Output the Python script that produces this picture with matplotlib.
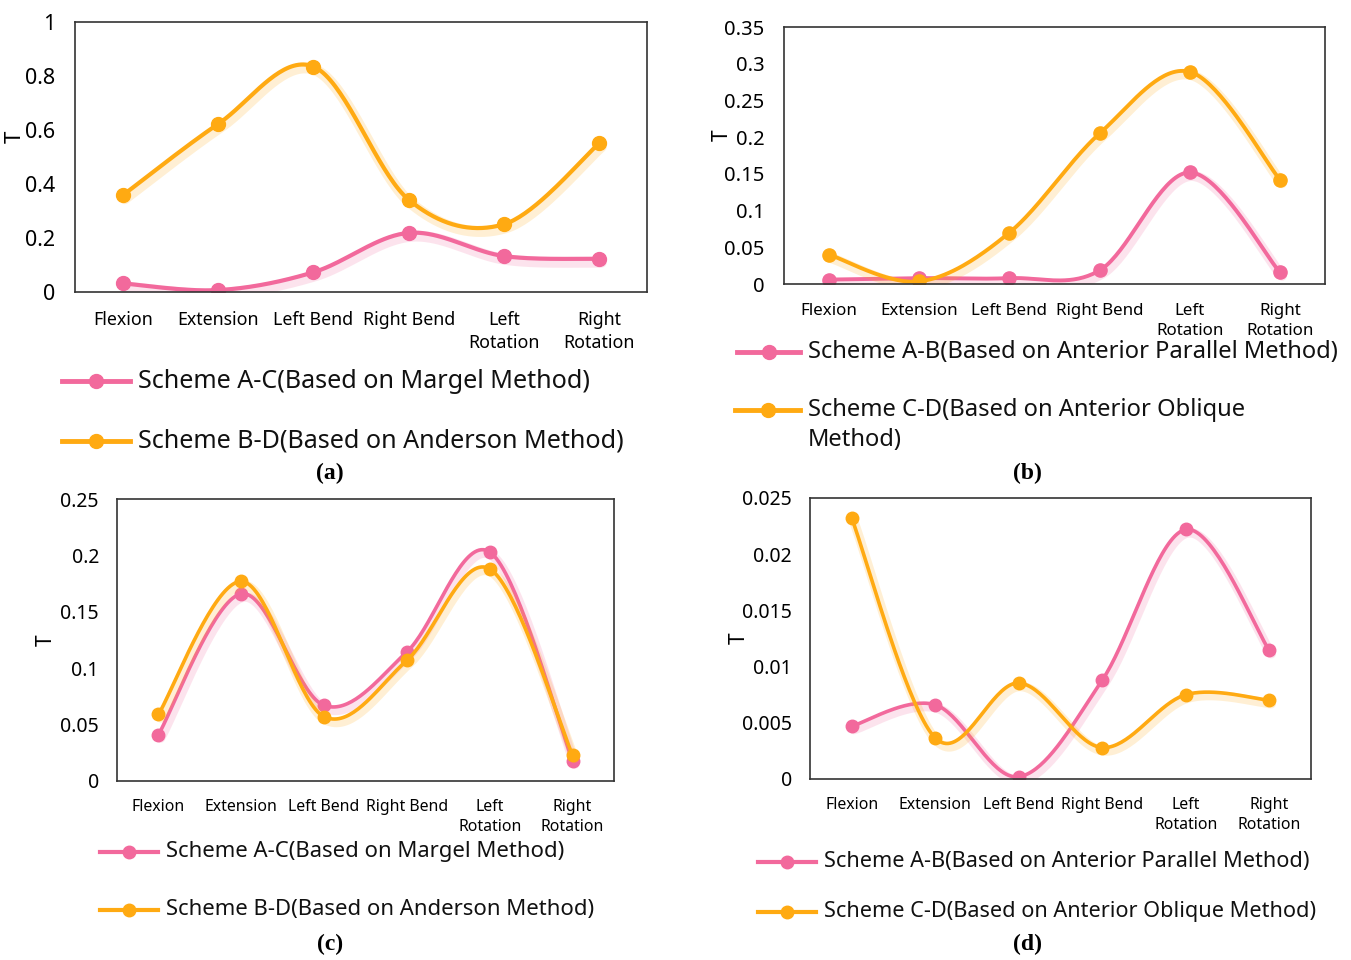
import numpy as np
import matplotlib.pyplot as plt
from matplotlib.lines import Line2D
import matplotlib.patheffects as pe

W, H = 1351, 960

categories = ["Flexion", "Extension", "Left Bend", "Right Bend", "Left\nRotation", "Right\nRotation"]

a_pink = [0.032, 0.007, 0.073, 0.219, 0.133, 0.123]
a_orange = [0.358, 0.622, 0.835, 0.342, 0.251, 0.551]
b_pink = [0.006, 0.008, 0.008, 0.0185, 0.152, 0.016]
b_orange = [0.040, 0.0035, 0.070, 0.205, 0.289, 0.142]
c_pink = [0.041, 0.166, 0.067, 0.1145, 0.203, 0.018]
c_orange = [0.059, 0.177, 0.057, 0.107, 0.188, 0.023]
d_pink = [0.0047, 0.0066, 0.0002, 0.0088, 0.0222, 0.01145]
d_orange = [0.0232, 0.00365, 0.00854, 0.0028, 0.0075, 0.0070]

a_yticks = [0, 0.2, 0.4, 0.6, 0.8, 1]
a_ylabels = ["0", "0.2", "0.4", "0.6", "0.8", "1"]
b_yticks = [0, 0.05, 0.1, 0.15, 0.2, 0.25, 0.3, 0.35]
b_ylabels = ["0", "0.05", "0.1", "0.15", "0.2", "0.25", "0.3", "0.35"]
c_yticks = [0, 0.05, 0.1, 0.15, 0.2, 0.25]
c_ylabels = ["0", "0.05", "0.1", "0.15", "0.2", "0.25"]
d_yticks = [0, 0.005, 0.01, 0.015, 0.02, 0.025]
d_ylabels = ["0", "0.005", "0.01", "0.015", "0.02", "0.025"]

names_ac = ["Scheme A-C(Based on Margel Method)", "Scheme B-D(Based on Anderson Method)"]
names_bd = ["Scheme A-B(Based on Anterior Parallel Method)", "Scheme C-D(Based on Anterior Oblique Method)"]

PINK = "#F2699C"
ORANGE = "#FFAA12"

plt.rcParams['font.family'] = ['Noto Sans', 'DejaVu Sans']


def smooth(y, n=40):
    # excel-like smoothed line through the points (bezier, catmull-rom control points)
    pts = np.column_stack([np.arange(len(y)), np.asarray(y, float)])
    out = []
    for i in range(len(pts) - 1):
        p0 = pts[max(i - 1, 0)]
        p1, p2 = pts[i], pts[i + 1]
        p3 = pts[min(i + 2, len(pts) - 1)]
        c1 = p1 + (p2 - p0) / 6
        c2 = p2 - (p3 - p1) / 6
        t = np.linspace(0, 1, n)[:, None]
        seg = (1 - t)**3 * p1 + 3 * (1 - t)**2 * t * c1 + 3 * (1 - t) * t**2 * c2 + t**3 * p2
        out.append(seg if i == 0 else seg[1:])
    s = np.vstack(out)
    return s[:, 0], s[:, 1]


def px(x, y):
    return x / W, 1 - y / H


fig = plt.figure(figsize=(W / 100, H / 100), dpi=100)


def panel(box, series, yticks, ylabels, yfs, xfs, ms, lw, ypad, xpad):
    x0, y0, x1, y1 = box
    ax = fig.add_axes([x0 / W, 1 - y1 / H, (x1 - x0) / W, (y1 - y0) / H])
    for vals, col in series:
        sx, sy = smooth(vals)
        ax.plot(sx, sy, color=col, lw=lw, solid_capstyle='round',
                path_effects=[pe.SimpleLineShadow(offset=(1.5, -2.5), shadow_color=col,
                                                  alpha=0.18, linewidth=lw * 2.6),
                              pe.Normal()])
        ax.plot(range(len(vals)), vals, 'o', color=col, ms=ms)
    ax.set_xlim(-0.5, len(categories) - 0.5)
    ax.set_ylim(yticks[0], yticks[-1])
    ax.set_yticks(yticks)
    ax.set_yticklabels(ylabels, fontsize=yfs)
    ax.set_xticks(range(len(categories)))
    ax.set_xticklabels(categories, fontsize=xfs, linespacing=1.3)
    ax.tick_params(length=0)
    ax.tick_params(axis='y', pad=ypad)
    ax.tick_params(axis='x', pad=xpad)
    for sp in ax.spines.values():
        sp.set_color("#333333")
        sp.set_linewidth(1.2)
    return ax


def legend_entry(xa, xb, y, col, text, fs, ms, lw, ytext=None):
    fx0, fy = px(xa, y)
    fx1, _ = px(xb, y)
    fig.add_artist(Line2D([fx0, fx1], [fy, fy], transform=fig.transFigure, color=col, lw=lw))
    fig.add_artist(Line2D([(fx0 + fx1) / 2], [fy], transform=fig.transFigure,
                          color=col, marker='o', ms=ms, ls='none'))
    tx, ty = px(xb + 8, y if ytext is None else ytext)
    fig.text(tx, ty, text, fontsize=fs, va='center', ha='left', color='#111111',
             linespacing=1.35)


# (a)
panel((75, 22, 647, 292), [(a_pink, PINK), (a_orange, ORANGE)],
      a_yticks, a_ylabels, 15.5, 12.8, 10, 3.0, 14, 14)
# (b)
panel((784, 27, 1325, 284), [(b_pink, PINK), (b_orange, ORANGE)],
      b_yticks, b_ylabels, 14.5, 12.2, 9.5, 2.8, 14, 14)
# (c)
panel((117, 499, 614, 781), [(c_pink, PINK), (c_orange, ORANGE)],
      c_yticks, c_ylabels, 14, 11.4, 9, 2.6, 13, 13)
# (d)
panel((810, 498, 1311, 779), [(d_pink, PINK), (d_orange, ORANGE)],
      d_yticks, d_ylabels, 14, 11.4, 9, 2.6, 13, 13)

# y labels
for (x, y), fs in [((15, 137), 16), ((722, 135), 15), ((46, 640), 15), ((739, 638), 15)]:
    fx, fy = px(x, y)
    fig.text(fx, fy, "T", rotation=90, fontsize=fs, ha='center', va='center')

# legends
legend_entry(62, 130, 381, PINK, names_ac[0], 18.1, 10, 3.5)
legend_entry(62, 130, 441, ORANGE, names_ac[1], 18.1, 10, 3.5)
legend_entry(737, 800, 352, PINK, names_bd[0], 17.1, 10, 3.5)
legend_entry(735, 800, 410, ORANGE, "Scheme C-D(Based on Anterior Oblique\nMethod)", 17.1, 10, 3.5, ytext=425)
legend_entry(100, 158, 852, PINK, names_ac[0], 15.9, 9, 3)
legend_entry(100, 158, 910, ORANGE, names_ac[1], 15.9, 9, 3)
legend_entry(758, 816, 862, PINK, names_bd[0], 15.6, 9, 3)
legend_entry(758, 816, 912, ORANGE, names_bd[1], 15.6, 9, 3)

# panel tags
for (x, y), tag in [((330, 473), "(a)"), ((1027, 473), "(b)"), ((330, 944), "(c)"), ((1027, 944), "(d)")]:
    fx, fy = px(x, y)
    fig.text(fx, fy, tag, fontsize=17, fontweight='bold', family='Liberation Serif',
             ha='center', va='center')

plt.savefig("out.png", dpi=100)
